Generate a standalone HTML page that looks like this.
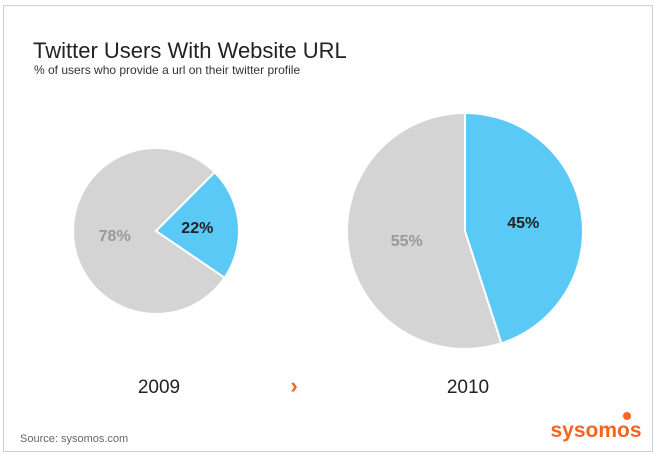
<!DOCTYPE html>
<html><head><meta charset="utf-8"><style>
body{margin:0;background:#fff;font-family:"Liberation Sans",sans-serif}
</style></head><body>
<svg width="659" height="457" viewBox="0 0 659 457" xmlns="http://www.w3.org/2000/svg">
<rect x="3.5" y="5.5" width="649" height="446" fill="#fff" stroke="#cfcfcf" stroke-width="1"/>
<text x="33" y="58" font-size="22" fill="#222">Twitter Users With Website URL</text>
<text x="34" y="74" font-size="12" fill="#333">% of users who provide a url on their twitter profile</text>
<g id="pies"></g>
<text x="294" y="393" font-size="22" font-weight="bold" fill="#f26522" text-anchor="middle">›</text>
<text x="20" y="442" font-size="11" fill="#666">Source: sysomos.com</text>
<text x="596" y="437" font-size="21" font-weight="bold" fill="#f26522" text-anchor="middle">sysomos</text>
<circle cx="627" cy="416" r="4" fill="#f26522"/>
</svg>
<script>
const years = ["2009", "2010"];
const withUrl = [22, 45];
const centersX = [156, 465];
const radii = [83, 118];
const startAngles = [-45, -90];
const NS = "http://www.w3.org/2000/svg";
const g = document.getElementById("pies");
const cy = 231;
function pt(cx, r, deg){const a=deg*Math.PI/180;return [cx+r*Math.cos(a), cy+r*Math.sin(a)];}
function arc(cx, r, a0, a1){
  const p0=pt(cx,r,a0), p1=pt(cx,r,a1), large=(a1-a0)>180?1:0;
  return `M${cx},${cy} L${p0[0]},${p0[1]} A${r},${r} 0 ${large} 1 ${p1[0]},${p1[1]} Z`;
}
years.forEach((y,i)=>{
  const cx=centersX[i], r=radii[i], a0=startAngles[i];
  const blueSweep=withUrl[i]/100*360;
  const a1=a0+blueSweep;
  const gray=document.createElementNS(NS,"path");
  gray.setAttribute("d",arc(cx,r,a1,a0+360));
  gray.setAttribute("fill","#d4d4d4");gray.setAttribute("stroke","#fff");gray.setAttribute("stroke-width","2");
  
  
  g.appendChild(gray);
  const blue=document.createElementNS(NS,"path");
  blue.setAttribute("d",arc(cx,r,a0,a1));
  blue.setAttribute("fill","#5bc9f5");blue.setAttribute("stroke","#fff");blue.setAttribute("stroke-width","2");
  
  
  g.appendChild(blue);
  const mb=pt(cx,r*0.5,(a0+a1)/2), mg=pt(cx,r*0.5,(a1+a0+360)/2);
  const lb=document.createElementNS(NS,"text");
  lb.setAttribute("x",mb[0]);lb.setAttribute("y",mb[1]+6);lb.setAttribute("text-anchor","middle");
  lb.setAttribute("font-size","16");lb.setAttribute("font-weight","bold");lb.setAttribute("fill","#222");
  lb.textContent=withUrl[i]+"%";
  
  
  g.appendChild(lb);
  const lg=document.createElementNS(NS,"text");
  lg.setAttribute("x",mg[0]);lg.setAttribute("y",mg[1]+6);lg.setAttribute("text-anchor","middle");
  lg.setAttribute("font-size","16");lg.setAttribute("font-weight","bold");lg.setAttribute("fill","#999");
  lg.textContent=(100-withUrl[i])+"%";
  
  
  g.appendChild(lg);
  const yl=document.createElementNS(NS,"text");
  yl.setAttribute("x",cx+3);yl.setAttribute("y",393);yl.setAttribute("text-anchor","middle");
  yl.setAttribute("font-size","19");yl.setAttribute("fill","#222");
  yl.textContent=y;
  
  
  g.appendChild(yl);
});
</script>
</body></html>
